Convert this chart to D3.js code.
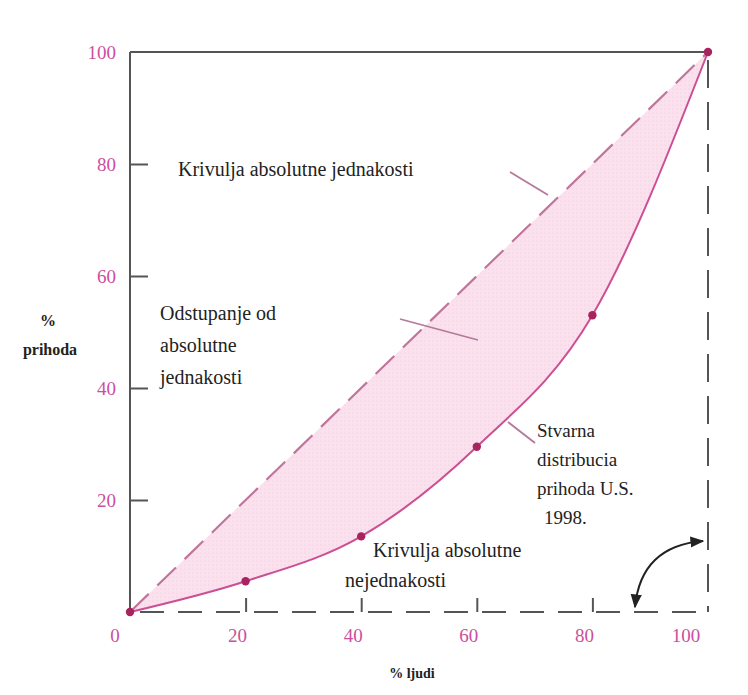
<!DOCTYPE html>
<html>
<head>
<meta charset="utf-8">
<script src="https://cdn.jsdelivr.net/npm/d3@7"></script>
<style>
  html, body { margin: 0; padding: 0; background: #fff; }
  svg { display: block; }
  .serif { font-family: "Liberation Serif", "Times New Roman", Tinos, Times, "DejaVu Serif", serif; }
</style>
</head>
<body>
<svg id="chart" width="748" height="695"></svg>
<script>
// ---- data ----
const peoplePct = [0, 20, 40, 60, 80, 100];
const incomePct = [0, 5.5, 13.5, 29.5, 53, 100];
const equalityLine = [0, 100];
const xTickValues = [0, 20, 40, 60, 80, 100];
const yTickValues = [20, 40, 60, 80, 100];
const xTickLabels = ["0", "20", "40", "60", "80", "100"];
const yTickLabels = ["20", "40", "60", "80", "100"];

const svg = d3.select("#chart");
const x = d3.scaleLinear().domain([0, 100]).range([130, 708]);
const y = d3.scaleLinear().domain([0, 100]).range([612, 52]);

const pink = "#cc4f9c";
const frame = "#555";

const pts = peoplePct.map((p, i) => [p, incomePct[i]]);

const lorenzLine = d3.line().x(d => x(d[0])).y(d => y(d[1])).curve(d3.curveMonotoneX);
const diagPts = equalityLine.map(v => [v, v]);
const areaPath = lorenzLine(pts) + "L" + x(diagPts[0][0]) + "," + y(diagPts[0][1]) + "Z";

const defs = svg.append("defs");
const pat = defs.append("pattern").attr("id", "dots").attr("width", 4).attr("height", 4)
  .attr("patternUnits", "userSpaceOnUse");
pat.append("rect").attr("width", 4).attr("height", 4).attr("fill", "#fbe1ed");
pat.append("circle").attr("cx", 1).attr("cy", 1).attr("r", 0.6).attr("fill", "#f3c6dc");

svg.append("path").attr("d", areaPath).attr("fill", "url(#dots)");

// frame: top & left solid
svg.append("line").attr("x1", x(0)).attr("x2", x(100)).attr("y1", y(100)).attr("y2", y(100))
  .attr("stroke", frame).attr("stroke-width", 2);
svg.append("line").attr("x1", x(0)).attr("x2", x(0)).attr("y1", y(100)).attr("y2", y(0))
  .attr("stroke", frame).attr("stroke-width", 2);
// bottom & right dashed
svg.append("line").attr("x1", x(0) + 10).attr("x2", x(100)).attr("y1", y(0)).attr("y2", y(0))
  .attr("stroke", frame).attr("stroke-width", 2).attr("stroke-dasharray", "24,14");
svg.append("line").attr("x1", x(100)).attr("x2", x(100)).attr("y1", y(100) + 8).attr("y2", y(0))
  .attr("stroke", frame).attr("stroke-width", 2).attr("stroke-dasharray", "28,14");

// ticks
const yAxis = d3.axisRight(y).tickValues(yTickValues.slice(0, 4)).tickSize(18).tickFormat("");
svg.append("g").attr("transform", `translate(${x(0)},0)`).call(yAxis)
  .call(g => g.select(".domain").remove())
  .call(g => g.selectAll("line").attr("stroke", frame).attr("stroke-width", 2));
const xAxis = d3.axisTop(x).tickValues(xTickValues.slice(1, 5)).tickSize(14).tickFormat("");
svg.append("g").attr("transform", `translate(0,${y(0)})`).call(xAxis)
  .call(g => g.select(".domain").remove())
  .call(g => g.selectAll("line").attr("stroke", frame).attr("stroke-width", 2));

// tick labels
svg.append("g").selectAll("text").data(yTickValues).join("text")
  .attr("class", "serif")
  .attr("x", 116).attr("y", d => y(d)).attr("dy", "0.35em")
  .attr("text-anchor", "end").attr("font-size", 19)
  .attr("fill", pink).text((d, i) => yTickLabels[i]);
svg.append("g").selectAll("text").data(xTickValues).join("text")
  .attr("class", "serif")
  .attr("x", d => x(d) - (d === 0 ? 15 : d === 100 ? 22 : 8)).attr("y", 642)
  .attr("text-anchor", "middle").attr("font-size", 19)
  .attr("fill", pink).text((d, i) => xTickLabels[i]);

// equality line
svg.append("path").attr("d", d3.line().x(d => x(d[0])).y(d => y(d[1]))(diagPts))
  .attr("fill", "none").attr("stroke", "#c0759c").attr("stroke-width", 2.2)
  .attr("stroke-dasharray", "26,12");

// Lorenz curve
svg.append("path").attr("d", lorenzLine(pts)).attr("fill", "none")
  .attr("stroke", "#cc4f94").attr("stroke-width", 2);
svg.append("g").selectAll("circle").data(pts).join("circle")
  .attr("cx", d => x(d[0])).attr("cy", d => y(d[1])).attr("r", 4.2)
  .attr("fill", "#a8245f");

// pointer lines
const ptr = "#b5799b";
[[510, 172, 548, 195], [400, 319, 478, 340], [508, 422, 535, 443]].forEach(l => {
  svg.append("line").attr("x1", l[0]).attr("y1", l[1]).attr("x2", l[2]).attr("y2", l[3])
    .attr("stroke", ptr).attr("stroke-width", 1.8);
});

// annotations
function label(lines, x0, y0, lh, opts = {}) {
  const t = svg.append("text").attr("class", "serif").attr("font-size", opts.size || 20)
    .attr("fill", "#222");
  lines.forEach((s, i) => {
    t.append("tspan").attr("x", x0 + (opts.dx && opts.dx[i] ? opts.dx[i] : 0))
      .attr("y", y0 + i * lh).text(s);
  });
}
label(["Krivulja absolutne jednakosti"], 178, 176, 0);
label(["Odstupanje od", "absolutne", "jednakosti"], 160, 320, 32);
label(["Stvarna", "distribucia", "prihoda U.S.", "1998."], 537, 437, 29, { size: 19, dx: [0, 0, 0, 7] });
label(["Krivulja absolutne", "nejednakosti"], 345, 557, 30, { dx: [28, 0] });

// axis titles
svg.append("text").attr("class", "serif").attr("x", 48).attr("y", 326).attr("text-anchor", "middle")
  .attr("font-weight", "bold").attr("font-size", 16)
  .attr("fill", "#222").text("%");
svg.append("text").attr("class", "serif").attr("x", 50).attr("y", 355).attr("text-anchor", "middle")
  .attr("font-weight", "bold").attr("font-size", 16)
  .attr("fill", "#222").text("prihoda");
svg.append("text").attr("class", "serif").attr("x", 412).attr("y", 678).attr("text-anchor", "middle")
  .attr("font-weight", "bold").attr("font-size", 14)
  .attr("fill", "#222").text("% ljudi");

// curved double arrow
defs.append("marker").attr("id", "ah").attr("viewBox", "0 0 10 10").attr("refX", 9).attr("refY", 5)
  .attr("markerWidth", 7).attr("markerHeight", 7).attr("orient", "auto-start-reverse")
  .append("path").attr("d", "M0,1 L10,5 L0,9 Z").attr("fill", "#222");
svg.append("path").attr("d", "M635,607 Q641,546 703,541")
  .attr("fill", "none").attr("stroke", "#222").attr("stroke-width", 2)
  .attr("marker-start", "url(#ah)").attr("marker-end", "url(#ah)");
</script>
</body>
</html>
